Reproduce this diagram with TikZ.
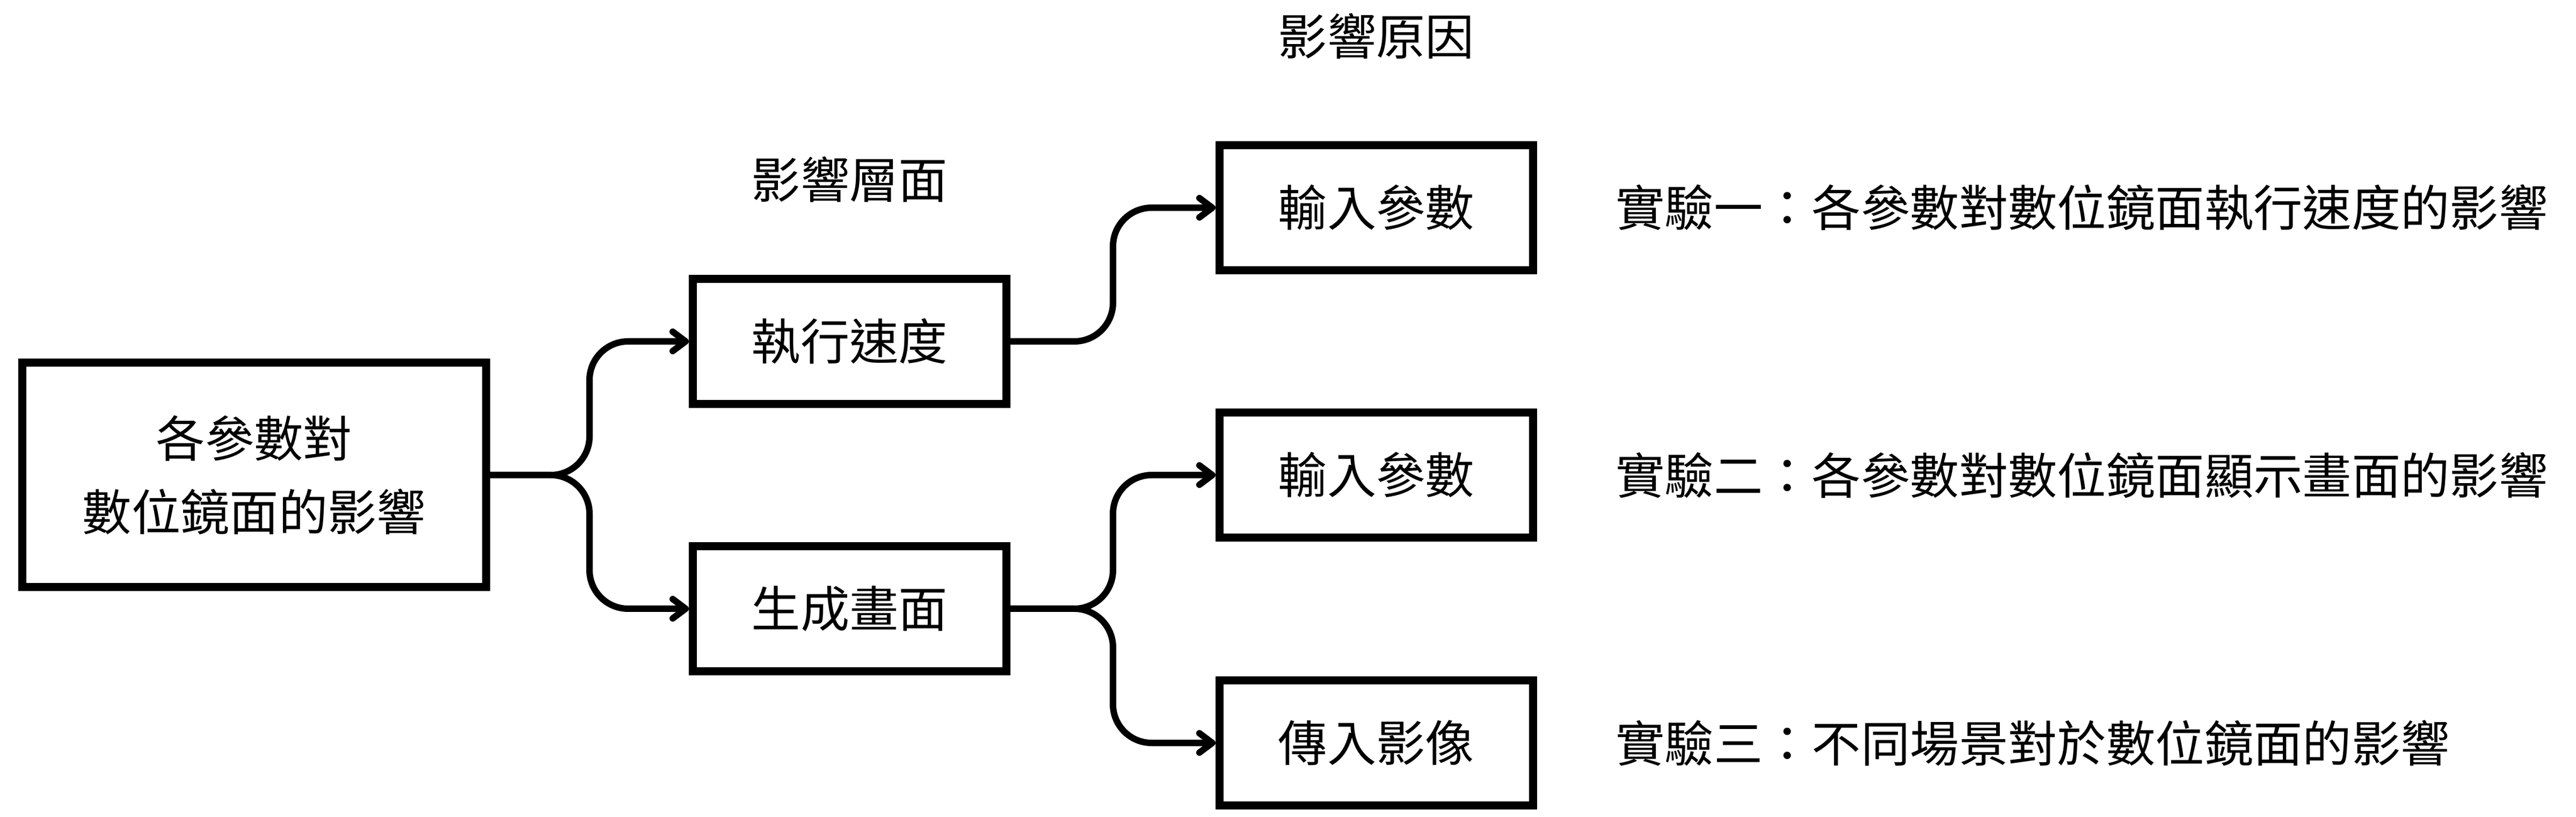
\documentclass[tikz,border=0pt]{standalone}
\usepackage{fontspec}
\setmainfont{Noto Sans CJK TC}
\usetikzlibrary{arrows.meta}

\tikzset{
  box/.style={draw, line width=1.5mm, inner sep=0pt,
    minimum width=5.84cm, minimum height=2.33cm},
  conn/.style={line width=1.2mm, rounded corners=7.2mm,
    -{Straight Barb[length=2.4mm,width=3.6mm,round]}},
}

\begin{document}
\begin{tikzpicture}[font=\fontsize{26}{39}\selectfont]
        \useasboundingbox (0,0) rectangle (47.98,15.21);

        % Headings
        \node (hlevel) at (15.825,11.87) {影響層面};
        \node (hcause) at (25.635,14.54) {影響原因};

        % Main box
        \node[box, minimum width=8.64cm, minimum height=4.18cm, align=center] (root) at (4.735,6.36) {各參數對\\數位鏡面的影響};

        % Levels
        \node[box] (speed) at (15.825,8.85) {執行速度};
        \node[box] (render) at (15.825,3.87) {生成畫面};

        % Causes
        \node[box] (param1) at (25.635,11.34) {輸入參數};
        \node[box] (param2) at (25.635,6.36) {輸入參數};
        \node[box] (image) at (25.635,1.37) {傳入影像};

        % Experiments
        \node[anchor=west] (exp1) at (29.97,11.34) {實驗一：各參數對數位鏡面執行速度的影響};
        \node[anchor=west] (exp2) at (29.97,6.36) {實驗二：各參數對數位鏡面顯示畫面的影響};
        \node[anchor=west] (exp3) at (29.97,1.37) {實驗三：不同場景對於數位鏡面的影響};

        % Connectors
        \draw[conn] (root.east) -- ++(1.85,0) |- (speed.west);
        \draw[conn] (root.east) -- ++(1.85,0) |- (render.west);
        \draw[conn] (speed.east) -- ++(1.91,0) |- (param1.west);
        \draw[conn] (render.east) -- ++(1.91,0) |- (param2.west);
        \draw[conn] (render.east) -- ++(1.91,0) |- (image.west);
    \end{tikzpicture}
\end{document}
